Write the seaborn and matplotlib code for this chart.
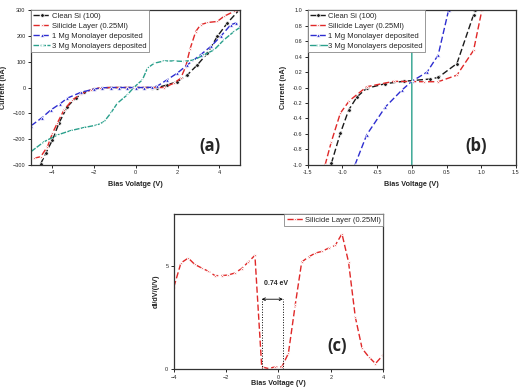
import matplotlib
matplotlib.use("Agg")
import matplotlib.pyplot as plt
import seaborn as sns
import numpy as np

# Panel (a): I-V curves over the full bias range
a_clean_x = [-4.54, -4.3, -3.98, -3.67, -3.27, -2.87, -2.47, -2.0, -1.6, -1.2, -0.8, -0.4, 0.0, 0.4, 0.8, 1.04,
             1.5, 1.99, 2.47, 2.95, 3.43, 3.9, 4.38, 4.94]
a_clean_y = [-295, -255, -203, -138, -74, -41, -19, -6, -1, 0, 0, 0, 0, 0, 0, 0,
             10, 23, 49, 88, 133, 198, 250, 300]
a_sil_x = [-4.86, -4.54, -4.22, -3.98, -3.75, -3.43, -3.03, -2.63, -2.15, -1.7, -1.2, -0.8, -0.4, 0.0, 0.4, 0.8,
           1.35, 1.83, 2.15, 2.39, 2.6, 2.87, 3.1, 3.43, 3.9, 4.22, 4.7, 4.94]
a_sil_y = [-274, -268, -229, -177, -138, -87, -48, -26, -9, -1, 0, 0, 0, 0, 0, 0,
           0, 17, 36, 81, 150, 217, 243, 252, 256, 276, 295, 300]
a_mg1_x = [-5.0, -4.5, -4.06, -3.6, -3.27, -2.63, -2.0, -1.6, -1.2, -0.8, -0.4, 0.0, 0.4, 0.8,
           1.04, 1.5, 1.99, 2.47, 3.1, 3.59, 4.06, 4.54, 4.78, 5.0]
a_mg1_y = [-148, -118, -87, -62, -41, -19, -6, -1, 0, 0, 0, 0, 0, 1,
           6, 30, 56, 88, 127, 159, 198, 243, 250, 243]
a_mg3_x = [-5.0, -4.38, -3.75, -3.11, -2.47, -1.83, -1.51, -1.2, -0.88, -0.4, -0.08, 0.32, 0.56, 0.88,
           1.35, 1.83, 2.31, 2.79, 3.27, 3.75, 4.22, 4.7, 5.0]
a_mg3_y = [-248, -210, -184, -167, -155, -145, -132, -100, -61, -28, 1, 30, 75, 94,
           103, 103, 101, 107, 127, 146, 185, 217, 234]

# Panel (b): zoom near zero bias
b_clean_x = [-1.16, -1.03, -0.91, -0.79, -0.65, -0.38, -0.12, 0.26, 0.38, 0.65, 0.89, 0.91]
b_clean_y = [-0.98, -0.59, -0.29, -0.12, -0.01, 0.05, 0.08, 0.11, 0.13, 0.31, 0.94, 1.0]
b_sil_x = [-1.25, -1.16, -1.03, -0.9, -0.65, -0.26, 0.17, 0.38, 0.65, 0.89, 1.01]
b_sil_y = [-1.0, -0.7, -0.33, -0.17, 0.01, 0.08, 0.075, 0.075, 0.16, 0.48, 1.0]
b_mg1_x = [-0.82, -0.65, -0.38, -0.14, 0.0, 0.22, 0.38, 0.53]
b_mg1_y = [-1.0, -0.61, -0.25, -0.03, 0.08, 0.2, 0.42, 1.0]
b_mg3_x = [-0.001, 0.0, 0.001]
b_mg3_y = [-30.0, 0.08, 30.0]

# Panel (c): normalised conductance of the silicide layer
c_x = [-4.0, -3.73, -3.45, -3.2, -2.94, -2.68, -2.43, -2.17, -1.92, -1.66, -1.41, -1.15, -0.9,
       -0.64, -0.38, -0.13, 0.13, 0.38, 0.64, 0.89, 1.15, 1.41, 1.66, 1.92, 2.17, 2.43,
       2.68, 2.94, 3.2, 3.45, 3.71, 4.0]
c_y = [3.97, 5.13, 5.37, 5.06, 4.89, 4.73, 4.52, 4.52, 4.55, 4.65, 4.86, 5.18, 5.5,
       0.11, 0.03, 0.11, 0.11, 0.76, 3.09, 5.18, 5.42, 5.61, 5.69, 5.85, 5.98, 6.54,
       5.18, 2.52, 1.0, 0.6, 0.27, 0.68]
gap_left, gap_right, gap_y = -0.64, 0.17, 3.38

labels = ["Clean Si (100)", "Silicide Layer (0.25Ml)", "1 Mg Monolayer deposited", "3 Mg Monolayers deposited"]
colors = ["#1a1a1a", "#e02828", "#2d2dd0", "#2aa08c"]
markers = ["o", "*", "^", "+"]

sns.set_style("ticks")
plt.rcParams["font.family"] = ["Liberation Sans", "DejaVu Sans"]

fig = plt.figure(figsize=(5.19, 3.89), dpi=100)
ax_a = fig.add_axes([0.060, 0.576, 0.403, 0.398])
ax_b = fig.add_axes([0.593, 0.576, 0.401, 0.398])
ax_c = fig.add_axes([0.335, 0.051, 0.403, 0.399])


def draw(ax, xs, ys, i, ls=(0, (4.5, 2))):
    sns.lineplot(x=xs, y=ys, ax=ax, color=colors[i], linestyle=ls, linewidth=1.0,
                 marker=markers[i], markersize=2.6, markeredgewidth=0.5,
                 label=labels[i], estimator=None, sort=False)


draw(ax_a, a_clean_x, a_clean_y, 0)
draw(ax_a, a_sil_x, a_sil_y, 1)
draw(ax_a, a_mg1_x, a_mg1_y, 2)
draw(ax_a, a_mg3_x, a_mg3_y, 3, ls=(0, (4, 1)))

draw(ax_b, b_clean_x, b_clean_y, 0)
draw(ax_b, b_sil_x, b_sil_y, 1)
draw(ax_b, b_mg1_x, b_mg1_y, 2)
draw(ax_b, b_mg3_x, b_mg3_y, 3, ls="-")

draw(ax_c, c_x, c_y, 1)

# band gap marker
ax_c.vlines([gap_left, gap_right], 0, gap_y, colors="black", linestyles=":", linewidth=0.7)
ax_c.annotate("", xy=(gap_left, gap_y), xytext=(gap_right, gap_y),
              arrowprops=dict(arrowstyle="<->", color="black", lw=0.6, mutation_scale=5,
                              shrinkA=0, shrinkB=0))
ax_c.text(-0.1, 4.05, "0.74 eV", fontsize=5, fontweight="bold", ha="center")

ax_a.set_xlim(-5, 5)
ax_a.set_ylim(-300, 300)
ax_a.set_xticks([-4, -2, 0, 2, 4])
ax_a.set_yticks(np.arange(-300, 301, 100))
ax_a.set_xlabel("Bias Volatge (V)")
ax_a.set_ylabel("Current (nA)")

ax_b.set_xlim(-1.5, 1.5)
ax_b.set_ylim(-1.0, 1.0)
ax_b.set_xticks(np.arange(-1.5, 1.51, 0.5))
ax_b.set_yticks(np.arange(-1.0, 1.01, 0.2))
ax_b.xaxis.set_major_formatter(matplotlib.ticker.FormatStrFormatter("%.1f"))
ax_b.yaxis.set_major_formatter(matplotlib.ticker.FormatStrFormatter("%.1f"))
ax_b.set_xlabel("Bias Voltage (V)")
ax_b.set_ylabel("Current (nA)")

ax_c.set_xlim(-4, 4)
ax_c.set_ylim(0, 7.5)
ax_c.set_xticks([-4, -2, 0, 2, 4])
ax_c.set_yticks([0, 5])
ax_c.set_xlabel("Bias Voltage (V)", labelpad=0)
ax_c.set_ylabel("dI/dV/(I/V)")

for ax, tag, tx, ty in [(ax_a, "(a)", 0.855, 0.12), (ax_b, "(b)", 0.81, 0.12), (ax_c, "(c)", 0.78, 0.15)]:
    for s in ax.spines.values():
        s.set_visible(True)
        s.set_color("#333333")
        s.set_linewidth(0.9)
    ax.tick_params(labelsize=4, length=2.5, width=0.7, pad=1.5, direction="out")
    ax.xaxis.label.set_fontsize(5.2)
    ax.xaxis.label.set_fontweight("bold")
    ax.yaxis.label.set_fontsize(5.2)
    ax.yaxis.label.set_fontweight("bold")
    ax.text(tx, ty, tag, transform=ax.transAxes, fontsize=12, fontweight="bold",
            family=["Open Sans", "DejaVu Sans"], ha="center", va="center")

for ax, loc in [(ax_a, "upper left"), (ax_b, "upper left"), (ax_c, "upper right")]:
    leg = ax.legend(loc=loc, fontsize=5.5, borderaxespad=0, fancybox=False, framealpha=1,
                    edgecolor="#888888", handlelength=2.2, handletextpad=0.2, labelspacing=0.35,
                    borderpad=0.3)
    leg.get_frame().set_linewidth(0.6)

fig.savefig("out.png", dpi=100)
